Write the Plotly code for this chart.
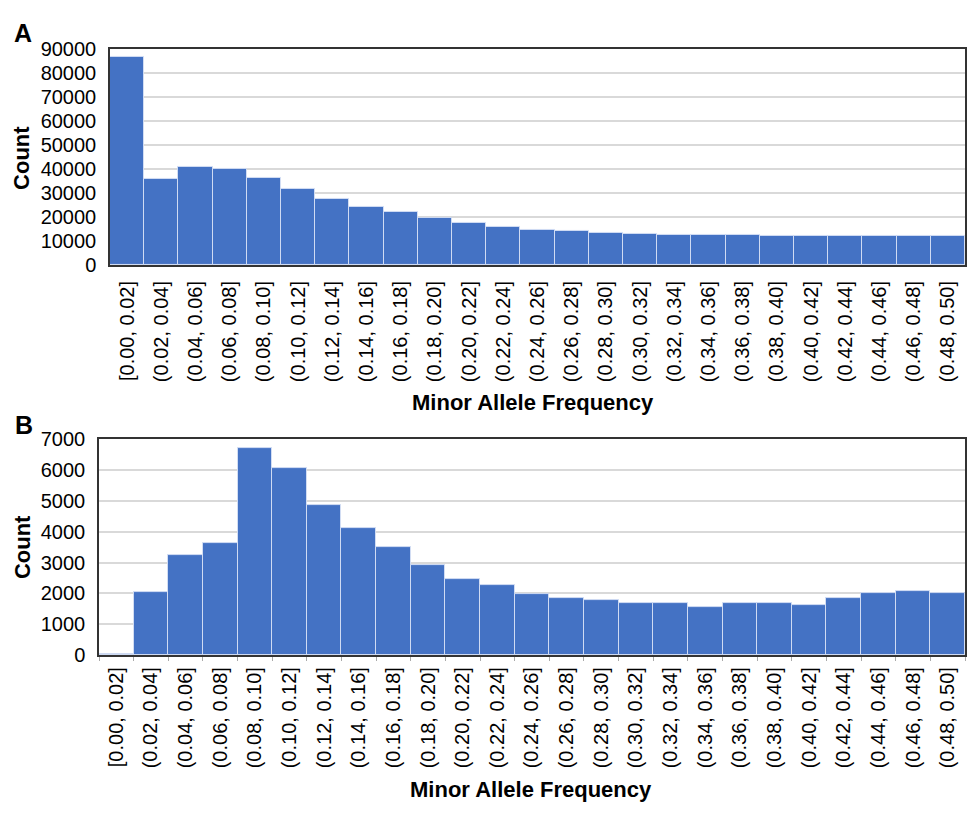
import plotly.graph_objects as go

# Minor allele frequency bins (shared by both panels)
maf_bins = [
    "[0.00, 0.02]", "(0.02, 0.04]", "(0.04, 0.06]", "(0.06, 0.08]", "(0.08, 0.10]",
    "(0.10, 0.12]", "(0.12, 0.14]", "(0.14, 0.16]", "(0.16, 0.18]", "(0.18, 0.20]",
    "(0.20, 0.22]", "(0.22, 0.24]", "(0.24, 0.26]", "(0.26, 0.28]", "(0.28, 0.30]",
    "(0.30, 0.32]", "(0.32, 0.34]", "(0.34, 0.36]", "(0.36, 0.38]", "(0.38, 0.40]",
    "(0.40, 0.42]", "(0.42, 0.44]", "(0.44, 0.46]", "(0.46, 0.48]", "(0.48, 0.50]",
]

# Panel A counts
counts_a = [86500, 35800, 40900, 39900, 36300, 31800, 27600, 24200, 22200, 19700,
            17600, 16000, 14600, 14000, 13400, 12800, 12450, 12450, 12400, 12200,
            12200, 12200, 12200, 11900, 11900]

# Panel B counts
counts_b = [40, 2030, 3230, 3620, 6700, 6060, 4850, 4130, 3500, 2930,
            2460, 2270, 1990, 1850, 1770, 1700, 1700, 1540, 1680, 1700,
            1630, 1850, 2000, 2080, 2000]

y_ticks_a = list(range(0, 90001, 10000))
y_ticks_b = list(range(0, 7001, 1000))

W, H = 968, 814
FONT = "Liberation Sans, Arial, sans-serif"
BAR = "#4472C4"
EDGE = "rgba(215,225,245,0.9)"
GRID = "#d9d9d9"
FRAME = "#333333"

fig = go.Figure()
fig.add_trace(go.Bar(x=maf_bins, y=counts_a, xaxis="x", yaxis="y",
                     marker=dict(color=BAR, line=dict(color=EDGE, width=1)),
                     showlegend=False))
fig.add_trace(go.Bar(x=maf_bins, y=counts_b, xaxis="x2", yaxis="y2",
                     marker=dict(color=BAR, line=dict(color=EDGE, width=1)),
                     showlegend=False))


def px_x(v):
    return v / W


def px_y(v):
    return 1 - v / H


xcommon = dict(type="category", tickangle=-90,
               tickfont=dict(family=FONT, size=20, color="black"),
               showgrid=False, showline=True, linecolor=FRAME, linewidth=2, mirror=True,
               fixedrange=True)
ycommon = dict(tickfont=dict(family=FONT, size=20, color="black"),
               showgrid=True, gridcolor=GRID, gridwidth=1.5, zeroline=False,
               showline=True, linecolor=FRAME, linewidth=1.5, mirror=True,
               ticks="", ticklabelstandoff=8, fixedrange=True)

fig.update_layout(
    width=W, height=H,
    margin=dict(l=0, r=0, t=0, b=0),
    paper_bgcolor="white", plot_bgcolor="white",
    bargap=0,
    font=dict(family=FONT, color="black"),
    xaxis=dict(domain=[px_x(110), px_x(965)], anchor="y", ticks="",
               ticklabelstandoff=6, **xcommon),
    yaxis=dict(domain=[px_y(261), px_y(39)], anchor="x", range=[0, 90000],
               tickvals=y_ticks_a, ticktext=[str(v) for v in y_ticks_a], **ycommon),
    xaxis2=dict(domain=[px_x(99), px_x(965)], anchor="y2", ticks="outside",
                tickson="boundaries", ticklen=4, tickcolor="#aaaaaa", tickwidth=1,
                ticklabelstandoff=2, **xcommon),
    yaxis2=dict(domain=[px_y(662), px_y(440)], anchor="x2", range=[0, 7000],
                tickvals=y_ticks_b, ticktext=[str(v) for v in y_ticks_b], **ycommon),
)

bold_title = dict(family=FONT, size=22, color="black")
panel_font = dict(family=FONT, size=25, color="black")
annotations = [
    dict(text="<b>A</b>", x=px_x(23), y=px_y(23), yanchor="middle", font=panel_font),
    dict(text="<b>B</b>", x=px_x(24), y=px_y(425), yanchor="middle", font=panel_font),
    dict(text="<b>Count</b>", x=px_x(22), y=px_y(151), yanchor="middle", textangle=-90, font=bold_title),
    dict(text="<b>Count</b>", x=px_x(22), y=px_y(551), yanchor="middle", textangle=-90, font=bold_title),
    dict(text="<b>Minor Allele Frequency</b>", x=px_x(533), y=px_y(402), yanchor="middle", font=bold_title),
    # bottom title kept fully inside the figure box
    dict(text="<b>Minor Allele Frequency</b>", x=px_x(531), y=0, yanchor="bottom",
         borderpad=0, font=bold_title),
]
for a in annotations:
    a.update(xref="paper", yref="paper", xanchor="center", showarrow=False)
fig.update_layout(annotations=annotations)

fig.write_html("out.html")
